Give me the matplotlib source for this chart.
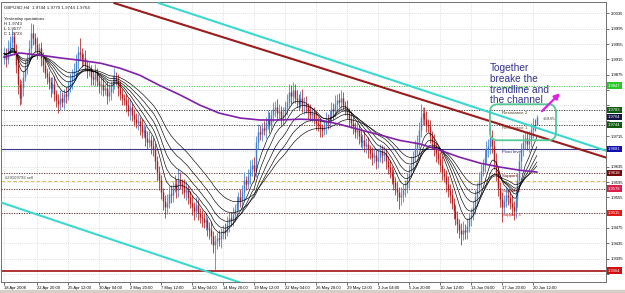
# GBPUSD H4 - recreacion del grafico de MT4
import numpy as np
import pandas as pd
import matplotlib
matplotlib.use("Agg")
import matplotlib.pyplot as plt
import matplotlib.transforms as mtransforms
from matplotlib.patches import FancyBboxPatch, Rectangle

plt.rcParams['font.family'] = ['Liberation Sans', 'DejaVu Sans']

# datos de las velas (cierres, mechas en pips)
first_open = 1.9920
closes = [
    1.9930, 1.9915, 1.9945, 1.9960, 1.9975, 1.9940, 1.9900, 1.9850, 1.9815, 1.9840,
    1.9870, 1.9895, 1.9920, 1.9945, 1.9985, 1.9970, 1.9955, 1.9935, 1.9945, 1.9920,
    1.9900, 1.9880, 1.9870, 1.9855, 1.9840, 1.9850, 1.9825, 1.9810, 1.9800, 1.9815,
    1.9805, 1.9825, 1.9820, 1.9845, 1.9860, 1.9875, 1.9885, 1.9910, 1.9935, 1.9930,
    1.9915, 1.9920, 1.9900, 1.9885, 1.9890, 1.9870, 1.9865, 1.9880, 1.9860, 1.9845,
    1.9850, 1.9835, 1.9840, 1.9820, 1.9830, 1.9845, 1.9855, 1.9870, 1.9860, 1.9840,
    1.9825, 1.9815, 1.9810, 1.9795, 1.9780, 1.9790, 1.9770, 1.9760, 1.9750, 1.9755,
    1.9740, 1.9725, 1.9730, 1.9710, 1.9700, 1.9705, 1.9690, 1.9680, 1.9650, 1.9620,
    1.9600, 1.9570, 1.9545, 1.9530, 1.9540, 1.9565, 1.9560, 1.9580, 1.9590, 1.9575,
    1.9600, 1.9590, 1.9585, 1.9570, 1.9575, 1.9555, 1.9540, 1.9530, 1.9520, 1.9535,
    1.9515, 1.9505, 1.9500, 1.9490, 1.9495, 1.9475, 1.9470, 1.9455, 1.9430, 1.9440,
    1.9450, 1.9445, 1.9460, 1.9470, 1.9465, 1.9485, 1.9500, 1.9495, 1.9510, 1.9525,
    1.9540, 1.9555, 1.9545, 1.9570, 1.9600, 1.9590, 1.9610, 1.9630, 1.9640, 1.9625,
    1.9700, 1.9725, 1.9720, 1.9735, 1.9730, 1.9750, 1.9760, 1.9745, 1.9770, 1.9785,
    1.9790, 1.9775, 1.9780, 1.9765, 1.9770, 1.9790, 1.9805, 1.9830, 1.9820, 1.9835,
    1.9815, 1.9810, 1.9800, 1.9815, 1.9795, 1.9800, 1.9790, 1.9780, 1.9770, 1.9775,
    1.9760, 1.9750, 1.9745, 1.9735, 1.9730, 1.9740, 1.9755, 1.9750, 1.9770, 1.9785,
    1.9780, 1.9800, 1.9810, 1.9805, 1.9815, 1.9795, 1.9790, 1.9775, 1.9760, 1.9750,
    1.9740, 1.9725, 1.9730, 1.9715, 1.9700, 1.9705, 1.9690, 1.9695, 1.9680, 1.9670,
    1.9660, 1.9665, 1.9650, 1.9660, 1.9675, 1.9665, 1.9670, 1.9650, 1.9635, 1.9620,
    1.9610, 1.9595, 1.9580, 1.9570, 1.9555, 1.9560, 1.9575, 1.9580, 1.9600, 1.9625,
    1.9640, 1.9660, 1.9685, 1.9700, 1.9730, 1.9765, 1.9775, 1.9760, 1.9745, 1.9740,
    1.9715, 1.9700, 1.9680, 1.9670, 1.9655, 1.9640, 1.9620, 1.9610, 1.9590, 1.9575,
    1.9560, 1.9540, 1.9520, 1.9500, 1.9485, 1.9470, 1.9460, 1.9470, 1.9465, 1.9480,
    1.9500, 1.9510, 1.9530, 1.9555, 1.9580, 1.9600, 1.9625, 1.9640, 1.9660, 1.9680,
    1.9690, 1.9710, 1.9690, 1.9650, 1.9620, 1.9580, 1.9550, 1.9530, 1.9545, 1.9560,
    1.9555, 1.9540, 1.9530, 1.9520, 1.9550, 1.9600, 1.9650, 1.9680, 1.9700, 1.9710,
    1.9695, 1.9705, 1.9730, 1.9745, 1.9744, 1.9764,
]
up_wick = [
    18, 14, 22, 15, 20, 12, 16, 20, 14, 22,
    15, 18, 12, 20, 25, 22, 14, 18, 12, 16,
    14, 20, 12, 16, 13, 18, 22, 10, 15, 20,
    16, 12, 18, 14, 20, 15, 22, 18, 15, 35,
    16, 12, 20, 14, 18, 10, 16, 22, 12, 15,
    20, 16, 10, 18, 22, 14, 20, 22, 12, 16,
    18, 14, 10, 16, 20, 22, 12, 16, 14, 18,
    10, 20, 16, 12, 18, 22, 14, 20, 16, 12,
    18, 14, 10, 16, 25, 20, 22, 16, 24, 12,
    28, 20, 14, 18, 22, 12, 16, 20, 14, 22,
    16, 12, 18, 14, 20, 10, 16, 22, 12, 18,
    14, 20, 16, 12, 18, 22, 14, 16, 20, 12,
    18, 14, 22, 16, 20, 12, 18, 22, 16, 20,
    15, 22, 18, 14, 20, 16, 22, 18, 14, 20,
    16, 22, 18, 14, 20, 16, 20, 22, 18, 20,
    16, 20, 14, 18, 22, 16, 20, 12, 18, 14,
    16, 20, 14, 18, 12, 16, 22, 18, 14, 20,
    16, 22, 15, 18, 20, 16, 12, 18, 14, 20,
    16, 12, 18, 14, 20, 16, 22, 14, 18, 12,
    16, 20, 14, 22, 18, 16, 20, 14, 12, 18,
    16, 20, 14, 18, 12, 22, 16, 20, 18, 14,
    22, 16, 20, 18, 22, 35, 15, 16, 20, 14,
    18, 12, 20, 16, 14, 18, 22, 12, 16, 20,
    14, 18, 12, 16, 20, 14, 18, 22, 16, 20,
    14, 18, 16, 20, 12, 22, 18, 16, 20, 22,
    18, 30, 20, 16, 22, 18, 14, 20, 16, 22,
    18, 14, 20, 16, 22, 18, 22, 16, 20, 15,
    18, 22, 20, 16, 15, 6,
]
down_wick = [
    16, 20, 12, 18, 22, 14, 20, 25, 20, 16,
    20, 12, 18, 14, 22, 16, 20, 18, 12, 22,
    18, 14, 20, 16, 22, 12, 18, 20, 25, 16,
    14, 20, 18, 12, 16, 22, 14, 18, 20, 16,
    20, 16, 14, 18, 12, 22, 16, 20, 14, 18,
    22, 16, 12, 22, 14, 20, 18, 16, 12, 20,
    16, 20, 14, 18, 12, 22, 16, 20, 14, 18,
    22, 16, 12, 20, 18, 14, 22, 16, 20, 22,
    25, 20, 22, 28, 18, 14, 20, 16, 12, 22,
    18, 14, 20, 16, 22, 18, 14, 20, 25, 16,
    20, 18, 22, 16, 20, 22, 25, 22, 20, 65,
    20, 16, 22, 14, 18, 12, 20, 16, 14, 18,
    16, 20, 14, 18, 22, 16, 12, 20, 18, 25,
    16, 20, 14, 18, 12, 20, 16, 22, 14, 18,
    20, 16, 14, 22, 18, 12, 20, 16, 22, 18,
    14, 20, 16, 12, 18, 22, 14, 20, 16, 18,
    14, 20, 16, 22, 18, 12, 20, 16, 14, 18,
    22, 16, 20, 14, 18, 12, 20, 16, 18, 14,
    20, 16, 18, 22, 14, 20, 16, 18, 22, 14,
    20, 16, 22, 18, 14, 20, 16, 22, 18, 14,
    20, 22, 18, 25, 30, 20, 16, 18, 14, 20,
    16, 18, 14, 20, 16, 18, 22, 16, 20, 14,
    18, 20, 16, 22, 14, 18, 20, 16, 22, 18,
    20, 16, 22, 18, 22, 20, 30, 16, 20, 18,
    16, 20, 14, 18, 22, 16, 20, 14, 18, 16,
    20, 22, 18, 20, 22, 22, 20, 40, 18, 16,
    20, 16, 22, 25, 18, 20, 16, 22, 18, 20,
    16, 22, 18, 20, 16, 0,
]

# media movil larga (morada)
ma_idx = [0, 8, 19, 29, 39, 50, 60, 70, 80, 91, 101, 111, 122, 132, 142, 153, 163,
          173, 184, 194, 204, 215, 225, 235, 246, 256, 266, 275]
ma_vals = [1.9921, 1.9932, 1.9926, 1.9919, 1.9913, 1.9905, 1.9892, 1.9874, 1.9848,
           1.9822, 1.9796, 1.9775, 1.9762, 1.9757, 1.9757, 1.9759, 1.9757, 1.9746,
           1.9731, 1.9718, 1.9704, 1.9694, 1.9678, 1.9660, 1.9644, 1.9634, 1.9626, 1.9621]
ema_spans = [9, 14, 21, 30, 42]

# lineas de tendencia (indice de vela, precio)
red_idx, red_px = [57, 310], [2.0062, 1.9660]
cyan_hi_idx, cyan_hi_px = [80, 310], [2.0062, 1.9678]
cyan_lo_idx, cyan_lo_px = [0, 124], [1.9539, 1.9329]

# niveles pivote
level_names = ["Resistance 3", "Resistance 2", "Resistance 1", "Pivot level",
               "Support 1", "Support 2", "Support 3"]
level_values = [1.9847, 1.9783, 1.9744, 1.9681, 1.9618, 1.9578, 1.9515]
level_colors = ["#3cc83c", "#404020", "#6a4a20", "#303080", "#6a1a1a", "#a02020", "#d02020"]
label_bg = ["#28c828", "#0f5a0f", "#0f5a0f", "#1010b0", "#7a0a0a", "#d8204a", "#e01818"]
bid = 1.9764
sell_order = 1.9598
low_line = 1.9364

price_ticks = [2.0035, 1.9995, 1.9955, 1.9915, 1.9875, 1.9835, 1.9795, 1.9755, 1.9715,
               1.9675, 1.9635, 1.9595, 1.9555, 1.9515, 1.9475, 1.9435, 1.9395, 1.9355]
date_labels = ["18 Apr 2008", "22 Apr 20:00", "25 Apr 12:00", "30 Apr 04:00", "2 May 20:00",
               "7 May 12:00", "12 May 04:00", "14 May 20:00", "19 May 12:00", "22 May 04:00",
               "26 May 20:00", "29 May 12:00", "3 Jun 04:00", "5 Jun 20:00", "10 Jun 12:00",
               "13 Jun 04:00", "17 Jun 20:00", "20 Jun 12:00"]

n = len(closes)
assert len(up_wick) == n and len(down_wick) == n

# velas H4 sin fines de semana
times = pd.date_range("2008-04-18 00:00", periods=n * 2, freq="4h")
times = times[times.weekday < 5][:n]
tick_pos = [0]
for lbl in date_labels[1:]:
    d, m, hm = lbl.split()
    t = pd.to_datetime(f"{d} {m} 2008 {hm}")
    tick_pos.append(int(np.where(times == t)[0][0]))

idx = np.arange(n)
c = np.array(closes)
o = np.array([first_open] + closes[:-1])
h = np.maximum(o, c) + np.array(up_wick) / 10000
l = np.minimum(o, c) - np.array(down_wick) / 10000
colors = np.where(c >= o, "#3f7fd0", "#b01c1c")

fig = plt.figure(figsize=(6.25, 2.93), dpi=100)
fig.patches.append(Rectangle((0, 0), 1, 3 / 293, transform=fig.transFigure,
                             color="#d4d0c8", zorder=0))
ax = fig.add_axes([1 / 625, 11 / 293, 605 / 625, 280 / 293])
ax.set_xlim(-1.55, 310.7)
ax.set_ylim(1.9334, 2.0065)

# etiquetas de precio a la derecha (las que tapan un tick lo ocultan)
right_vals = level_values[:3] + [bid] + level_values[3:] + [low_line]
right_bg = label_bg[:3] + ["#141446"] + label_bg[3:] + ["#d01010"]

# grid punteado
ax.set_yticks(price_ticks)
ax.set_yticklabels(["" if min(abs(p - v) for v in right_vals) < 0.0016 else f"{p:.4f}"
                    for p in price_ticks])
ax.set_xticks(tick_pos)
ax.set_xticklabels(date_labels)
for t in ax.get_xticklabels():
    t.set_ha("left")
ax.grid(True, color="#c4c4c4", linestyle=(0, (1, 2)), lw=0.5)
ax.set_axisbelow(True)
ax.yaxis.tick_right()
ax.tick_params(axis="y", labelsize=3, length=2, pad=1.2, width=0.4)
ax.tick_params(axis="x", labelsize=3, length=2, pad=0.8, width=0.4)
for s in ax.spines.values():
    s.set_color("#707070")
    s.set_linewidth(0.7)

# lineas horizontales
full = [-1.55, 310.7]
ax.hlines(level_values[0], *full, colors="#3cc83c", linestyles=(0, (1.5, 1.5)), lw=0.6)
ax.hlines(level_values[1:3], *full, colors="#303030", linestyles=(0, (1.5, 1.5)), lw=0.6)
ax.hlines(level_values[3], *full, colors="#3a3a8a", lw=0.8)
ax.hlines(level_values[4:], *full, colors="#5a2020", linestyles=(0, (1.5, 1.5)), lw=0.6)
ax.hlines(sell_order, *full, colors="#d8c060", linestyles=(0, (4, 2)), lw=0.7)
ax.hlines(low_line, *full, colors="#a01010", lw=1.2)
ax.text(0.5, sell_order + 0.0003, "#29109792 sell", fontsize=3, color="#404040", va="bottom")
for name, val, col in zip(level_names, level_values, level_colors):
    ax.text(257, val - 0.0002, name, fontsize=3.2, color=col, va="top")

# velas
ax.vlines(idx, l, h, colors=colors, lw=0.55, zorder=3)
ax.vlines(idx, np.minimum(o, c), np.maximum(o, c), colors=colors, lw=1.05, zorder=3)

# medias moviles
s = pd.Series(closes)
for span in ema_spans:
    ax.plot(idx, s.ewm(span=span, adjust=False).mean(), color="black", lw=0.45, zorder=4)
ax.plot(ma_idx, ma_vals, color="#8020a8", lw=1.2, zorder=4)

# lineas de tendencia
def ray(ix, px, x_start, x_end):
    k = (px[1] - px[0]) / (ix[1] - ix[0])
    return [x_start, x_end], [px[0] + k * (x_start - ix[0]), px[0] + k * (x_end - ix[0])]

xr, yr = ray(red_idx, red_px, red_idx[0], 310.7)
ax.plot(xr, yr, color="#9a1c1c", lw=1.5, zorder=5)
xc, yc = ray(cyan_hi_idx, cyan_hi_px, cyan_hi_idx[0], 310.7)
ax.plot(xc, yc, color="#3cd8d0", lw=1.5, zorder=5)
xl, yl = ray(cyan_lo_idx, cyan_lo_px, -1.55, 140)
ax.plot(xl, yl, color="#3cd8d0", lw=1.5, zorder=5)

# anotaciones
box = FancyBboxPatch((250.8, 1.9704), 34.1, 0.0094,
                     boxstyle="round,pad=0,rounding_size=4", mutation_aspect=0.00052,
                     fill=False, ec="#55c895", lw=1.3, zorder=6)
ax.add_patch(box)
ax.text(250.8, 1.9905, "Together\nbreake the\ntrendline and\nthe channel",
        fontsize=7.3, color="#33338f", va="top", ha="left", linespacing=1.08, zorder=7)
ax.annotate("", xy=(288, 1.9832), xytext=(276.6, 1.9775),
            arrowprops=dict(arrowstyle="-|>", color="#e020e0", lw=1.6, mutation_scale=8),
            zorder=7)
ax.text(278, 1.9759, "<59.65", fontsize=3, color="#303030", va="center")

# textos arriba a la izquierda
head = [("GBPUSD,H4  1.9744 1.9770 1.9744 1.9764", 2.5),
        ("Yesterday quotations", 10.5), ("H 1.9743", 14.2),
        ("L 1.9577", 18.0), ("C 1.9723", 21.7)]
for txt, dy in head:
    ax.annotate(txt, xy=(0, 1), xycoords="axes fraction", xytext=(2.5, -dy),
                textcoords="offset points", fontsize=3.2, va="top", color="#202020")

tr = mtransforms.blended_transform_factory(ax.transAxes, ax.transData)
for v, bg in zip(right_vals, right_bg):
    ax.text(1.0035, v, f"{v:.4f}", transform=tr, fontsize=3, color="white", va="center",
            ha="left", clip_on=False, zorder=8,
            bbox=dict(boxstyle="square,pad=0.25", fc=bg, ec="none"))

plt.savefig("out.png", dpi=100)
